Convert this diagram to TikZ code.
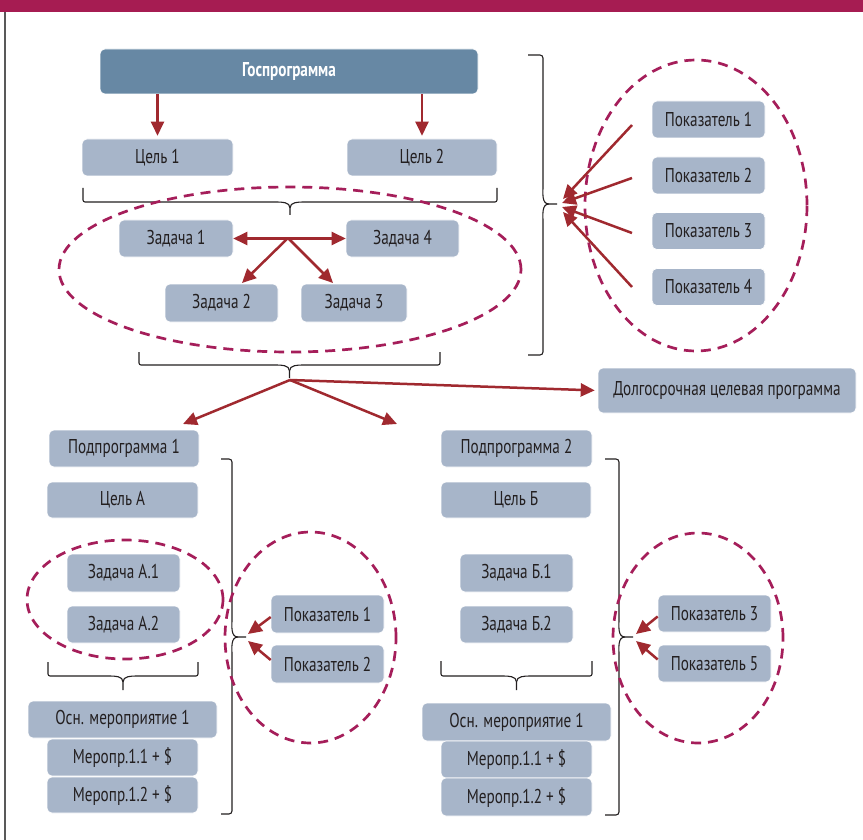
\documentclass[tikz,border=0pt]{standalone}
\usepackage{fontspec}
\setmainfont{PT Sans}[FakeStretch=0.76]
\usetikzlibrary{arrows.meta,calc}
\definecolor{band}{HTML}{A61C52}
\definecolor{boxc}{HTML}{A7B5C9}
\definecolor{darkbox}{HTML}{6788A4}
\definecolor{txt}{HTML}{231F20}
\definecolor{dashc}{HTML}{A51E5A}
\definecolor{arr}{HTML}{A0292F}
\newcommand\myfs{\fontsize{20}{23}\selectfont}
\newcommand\hbr[5]{%
 \pgfmathsetmacro\bxm{(#1+#2)/2}%
 \pgfmathsetmacro\bxl{\bxm-14}%
 \pgfmathsetmacro\bxr{\bxm+14}%
 \pgfmathsetmacro\bya{-#4+2}%
 \pgfmathsetmacro\byb{-#4-6}%
 \pgfmathsetmacro\bxa{#1+2}%
 \pgfmathsetmacro\bxb{#2-2}%
 \draw[brc] (#1,-#3) -- (#1,\bya) to[out=-90,in=180] (\bxa,-#4) -- (\bxl,-#4) to[out=0,in=90] (\bxm,\byb) -- (\bxm,-#5);
 \draw[brc] (\bxm,\byb) to[out=90,in=180] (\bxr,-#4) -- (\bxb,-#4) to[out=0,in=-90] (#2,\bya) -- (#2,-#3);}
\newcommand\vbr[6]{%
 \pgfmathsetmacro\vxa{#2-3}%
 \pgfmathsetmacro\vxb{#2+6}%
 \pgfmathsetmacro\vya{-#3-3}%
 \pgfmathsetmacro\vyb{-#5+18}%
 \pgfmathsetmacro\vyc{-#5-18}%
 \pgfmathsetmacro\vyd{-#4+3}%
 \draw[brc] (#1,-#3) -- (\vxa,-#3) to[out=0,in=90] (#2,\vya) -- (#2,\vyb) to[out=-90,in=180] (\vxb,-#5) -- (#6,-#5);
 \draw[brc] (\vxb,-#5) to[out=180,in=90] (#2,\vyc) -- (#2,\vyd) to[out=-90,in=0] (\vxa,-#4) -- (#1,-#4);}
\tikzset{
 bx/.style={fill=boxc, draw=white, line width=0.6pt, rounded corners=5pt, inner sep=0pt, text=txt, font=\myfs},
 arw/.style={draw=arr, line width=2.5pt, -{Triangle[length=14pt,width=13pt]}},
 arwb/.style={draw=arr, line width=2.5pt, {Triangle[length=14pt,width=13pt]}-{Triangle[length=14pt,width=13pt]}},
 dsh/.style={draw=dashc, line width=2.7pt, dash pattern=on 10pt off 7pt},
 brc/.style={draw=txt, line width=1.1pt}
}
\begin{document}
\begin{tikzpicture}[x=1pt,y=1pt]
\useasboundingbox (0,0) rectangle (863,-840);
\fill[white] (0,0) rectangle (863,-840);
\fill[band] (0,0) rectangle (863,-12);
\draw[gray!70!black, line width=2pt] (5,-12) -- (5,-840);

% top level
\node[bx,minimum width=378pt,minimum height=45pt,fill=darkbox,text=white,font=\myfs\bfseries] (gos) at (289,-71.5) {Госпрограмма};
\node[bx,minimum width=151pt,minimum height=37pt] (c1) at (157.5,-157.5) {Цель 1};
\node[bx,minimum width=150pt,minimum height=37pt] (c2) at (422,-157.5) {Цель 2};
\draw[arw,shorten >=3pt] (c1 |- gos.south) -- (c1.north);
\draw[arw,shorten >=3pt] (c2 |- gos.south) -- (c2.north);

\hbr{83}{497}{188}{202}{215}

% tasks
\draw[dsh] (290,-269.5) ellipse [x radius=231, y radius=82.5];
\node[bx,minimum width=114pt,minimum height=37pt] (z1) at (176,-238.5) {Задача 1};
\node[bx,minimum width=113pt,minimum height=37pt] (z4) at (402.5,-238.5) {Задача 4};
\node[bx,minimum width=113pt,minimum height=38pt] (z2) at (221.5,-303) {Задача 2};
\node[bx,minimum width=106pt,minimum height=38pt] (z3) at (354,-303) {Задача 3};
\coordinate (zh) at (288,-238);
\coordinate (z2t) at (242,-283);
\coordinate (z3t) at (333,-283);
\draw[arwb] (z1.east) -- (z4.west);
\draw[arw] (zh) -- (z2t);
\draw[arw] (zh) -- (z3t);

\hbr{139}{440}{352}{365}{378}

% indicators top right
\vbr{528}{543}{55}{355}{204}{557}
\draw[dsh] (696,-205.5) ellipse [x radius=111, y radius=145.5];
\node[bx,minimum width=113pt,minimum height=37pt] (p1) at (708.5,-119.5) {Показатель 1};
\node[bx,minimum width=113pt,minimum height=37pt] (p2) at (708.5,-175.5) {Показатель 2};
\node[bx,minimum width=113pt,minimum height=37pt] (p3) at (708.5,-231) {Показатель 3};
\node[bx,minimum width=113pt,minimum height=37pt] (p4) at (708.5,-287) {Показатель 4};
\coordinate (s1) at (632,-125); \coordinate (e1) at (563,-199);
\coordinate (s2) at (632,-178); \coordinate (e2) at (562,-203);
\coordinate (s3) at (632,-233); \coordinate (e3) at (562,-207);
\coordinate (s4) at (632,-287); \coordinate (e4) at (563,-212);
\draw[arw] (s1) -- (e1);
\draw[arw] (s2) -- (e2);
\draw[arw] (s3) -- (e3);
\draw[arw] (s4) -- (e4);

% long-term program
\node[bx,minimum width=258pt,minimum height=45pt] (dcp) at (727,-390.5) {Долгосрочная целевая программа};
\coordinate (lt) at (290,-380);
\coordinate (t1) at (183,-424);
\coordinate (t2) at (397,-424);
\draw[arw] (lt) -- (t1);
\draw[arw] (lt) -- (t2);
\draw[arw,shorten >=3pt] (lt) -- (dcp.west);

% subprogram 1
\node[bx,minimum width=150pt,minimum height=37pt] (pp1) at (124,-448.5) {Подпрограмма 1};
\node[bx,minimum width=151pt,minimum height=36pt] (ca) at (122.5,-500) {Цель А};
\draw[dsh] (125,-599.5) ellipse [x radius=98, y radius=59.5];
\node[bx,minimum width=113pt,minimum height=38pt] (za1) at (123.5,-573) {Задача А.1};
\node[bx,minimum width=113pt,minimum height=37pt] (za2) at (123.5,-624.5) {Задача А.2};
\hbr{48}{198}{662}{676}{690}
\node[bx,minimum width=189pt,minimum height=37pt] (osa) at (122.5,-719.5) {Осн. мероприятие 1};
\node[bx,minimum width=151pt,minimum height=37pt] (ma1) at (122.5,-757.5) {Меропр.1.1 + \$};
\node[bx,minimum width=151pt,minimum height=36pt] (ma2) at (122.5,-795) {Меропр.1.2 + \$};
\vbr{221}{232}{459}{814}{637}{246}
\draw[dsh] (310.5,-637.5) ellipse [x radius=85.5, y radius=105.5];
\node[bx,minimum width=113pt,minimum height=38pt] (pa1) at (327.5,-614) {Показатель 1};
\node[bx,minimum width=113pt,minimum height=38pt] (pa2) at (327.5,-664) {Показатель 2};
\coordinate (ea1) at (248,-634);
\coordinate (ea2) at (248,-641);
\draw[arw] ([yshift=-3pt]pa1.west) -- (ea1);
\draw[arw] ([yshift=4pt]pa2.west) -- (ea2);

% subprogram 2
\node[bx,minimum width=151pt,minimum height=37pt] (pp2) at (516.5,-448.5) {Подпрограмма 2};
\node[bx,minimum width=150pt,minimum height=36pt] (cb) at (516,-500) {Цель Б};
\node[bx,minimum width=113pt,minimum height=38pt] (zb1) at (516.5,-573) {Задача Б.1};
\node[bx,minimum width=113pt,minimum height=37pt] (zb2) at (516.5,-624.5) {Задача Б.2};
\hbr{441}{592}{661}{676}{690}
\node[bx,minimum width=189pt,minimum height=38pt] (osb) at (516.5,-722) {Осн. мероприятие 1};
\node[bx,minimum width=151pt,minimum height=37pt] (mb1) at (516.5,-759.5) {Меропр.1.1 + \$};
\node[bx,minimum width=151pt,minimum height=38pt] (mb2) at (516.5,-797) {Меропр.1.2 + \$};
\vbr{605}{619}{459}{815}{637}{633}
\draw[dsh] (698,-638) ellipse [x radius=85, y radius=105];
\node[bx,minimum width=113pt,minimum height=37pt] (pb3) at (714.5,-613.5) {Показатель 3};
\node[bx,minimum width=113pt,minimum height=37pt] (pb5) at (714.5,-663.5) {Показатель 5};
\coordinate (eb1) at (636,-634);
\coordinate (eb2) at (636,-641);
\draw[arw] ([yshift=-3pt]pb3.west) -- (eb1);
\draw[arw] ([yshift=4pt]pb5.west) -- (eb2);
\end{tikzpicture}
\end{document}
